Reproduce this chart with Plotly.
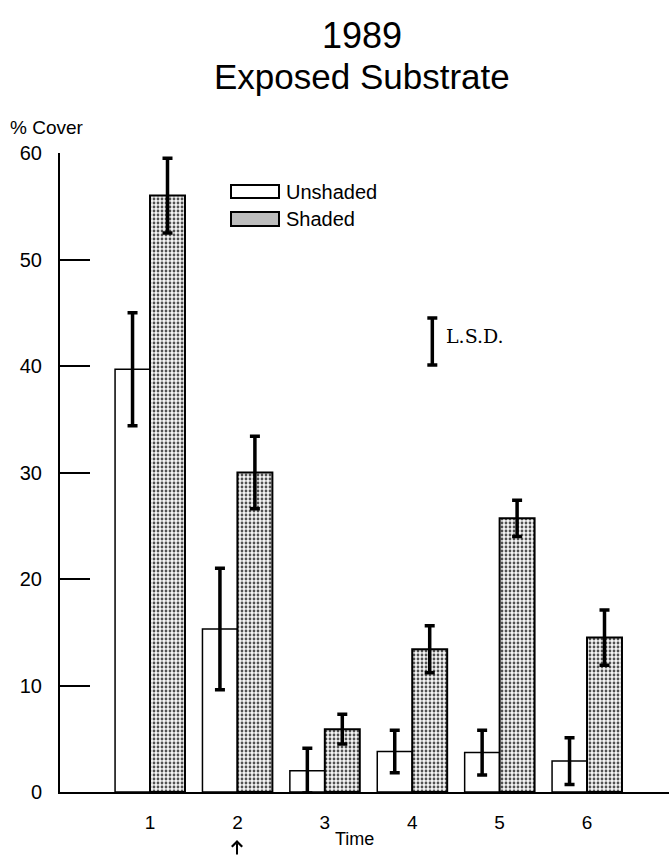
import plotly.graph_objects as go

# Sampling times and mean % cover of exposed substrate (1989)
times = [1, 2, 3, 4, 5, 6]
time_labels = ["1", "2", "3", "4", "5", "6"]
unshaded = [39.7, 15.3, 2.0, 3.8, 3.7, 2.9]
unshaded_err = [5.3, 5.7, 2.1, 2.0, 2.1, 2.2]
shaded = [56.0, 30.0, 5.9, 13.4, 25.7, 14.5]
shaded_err = [3.5, 3.4, 1.4, 2.2, 1.7, 2.6]
y_ticks = [0, 10, 20, 30, 40, 50, 60]

# Least significant difference bar
lsd_x = 4.23
lsd_center = 42.3
lsd_half = 2.2

W, H = 669, 856
L, R, T, B = 60, 0, 153, 64
PW, PH = W - L - R, H - T - B


def px(x):
    return (x - L) / PW


def py(y):
    return (H - B - y) / PH


font_main = "Liberation Sans, Arial, sans-serif"

fig = go.Figure()

fig.add_trace(go.Bar(
    x=times, y=unshaded, name="Unshaded",
    marker=dict(color="white", line=dict(color="black", width=1.5)),
    error_y=dict(type="data", array=unshaded_err, color="black",
                 thickness=3.5, width=5),
    showlegend=False,
))
fig.add_trace(go.Bar(
    x=times, y=shaded, name="Shaded",
    marker=dict(color="white",
                line=dict(color="black", width=2),
                pattern=dict(shape=".", size=4, solidity=0.38,
                             fgcolor="#505050", bgcolor="#f4f4f4",
                             fillmode="replace")),
    error_y=dict(type="data", array=shaded_err, color="black",
                 thickness=3.5, width=5),
    showlegend=False,
))

# L.S.D. marker
fig.add_trace(go.Scatter(
    x=[lsd_x], y=[lsd_center], mode="markers",
    marker=dict(size=1, color="rgba(0,0,0,0)"),
    error_y=dict(type="constant", value=lsd_half, color="black",
                 thickness=3.5, width=5),
    showlegend=False, hoverinfo="skip",
))

fig.update_layout(
    width=W, height=H,
    margin=dict(l=L, r=R, t=T, b=B),
    paper_bgcolor="white", plot_bgcolor="white",
    barmode="group", bargap=0.2, bargroupgap=0,
    font=dict(family=font_main, color="black"),
    xaxis=dict(
        range=[-0.03, -0.03 + PW / 87.4],
        tickvals=times, ticktext=time_labels,
        ticks="", showgrid=False, zeroline=False,
        showline=True, linecolor="black", linewidth=2,
        tickfont=dict(size=19), ticklabelstandoff=12,
    ),
    yaxis=dict(
        range=[0, 60], tickvals=y_ticks,
        ticks="inside", ticklen=30, tickwidth=1.5, tickcolor="black",
        showgrid=False, zeroline=False,
        showline=True, linecolor="black", linewidth=2,
        tickfont=dict(size=20), ticklabelstandoff=12,
    ),
)

annotations = [
    dict(text="1989", x=px(362), y=py(35), xref="paper", yref="paper",
         showarrow=False, font=dict(size=36), xanchor="center", yanchor="middle"),
    dict(text="Exposed Substrate", x=px(362), y=py(76), xref="paper", yref="paper",
         showarrow=False, font=dict(size=35), xanchor="center", yanchor="middle"),
    dict(text="% Cover", x=px(8), y=py(127), xref="paper", yref="paper",
         showarrow=False, font=dict(size=19), xanchor="left", yanchor="middle"),
    dict(text="Time", x=px(354), y=py(839), xref="paper", yref="paper",
         showarrow=False, font=dict(size=18), xanchor="center", yanchor="middle"),
    dict(text="Unshaded", x=px(284), y=py(192), xref="paper", yref="paper",
         showarrow=False, font=dict(size=20), xanchor="left", yanchor="middle"),
    dict(text="Shaded", x=px(284), y=py(219), xref="paper", yref="paper",
         showarrow=False, font=dict(size=20), xanchor="left", yanchor="middle"),
    dict(text="L.S.D.", x=px(444), y=py(336), xref="paper", yref="paper",
         showarrow=False, font=dict(size=19, family="DejaVu Serif, serif"),
         xanchor="left", yanchor="middle"),
    # arrow marking the treatment time
    dict(text="", x=px(237), y=py(840), xref="paper", yref="paper",
         ax=0, ay=16, showarrow=True, arrowhead=4, arrowsize=1.0,
         arrowwidth=2, arrowcolor="black"),
]
fig.update_layout(annotations=annotations)

# legend swatches
fig.add_shape(type="rect", xref="paper", yref="paper",
              x0=px(231), x1=px(279), y0=py(198), y1=py(185),
              line=dict(color="black", width=2), fillcolor="white")
fig.add_shape(type="rect", xref="paper", yref="paper",
              x0=px(231), x1=px(279), y0=py(226), y1=py(212),
              line=dict(color="black", width=2), fillcolor="#bdbdbd")

fig.write_html("out.html")
